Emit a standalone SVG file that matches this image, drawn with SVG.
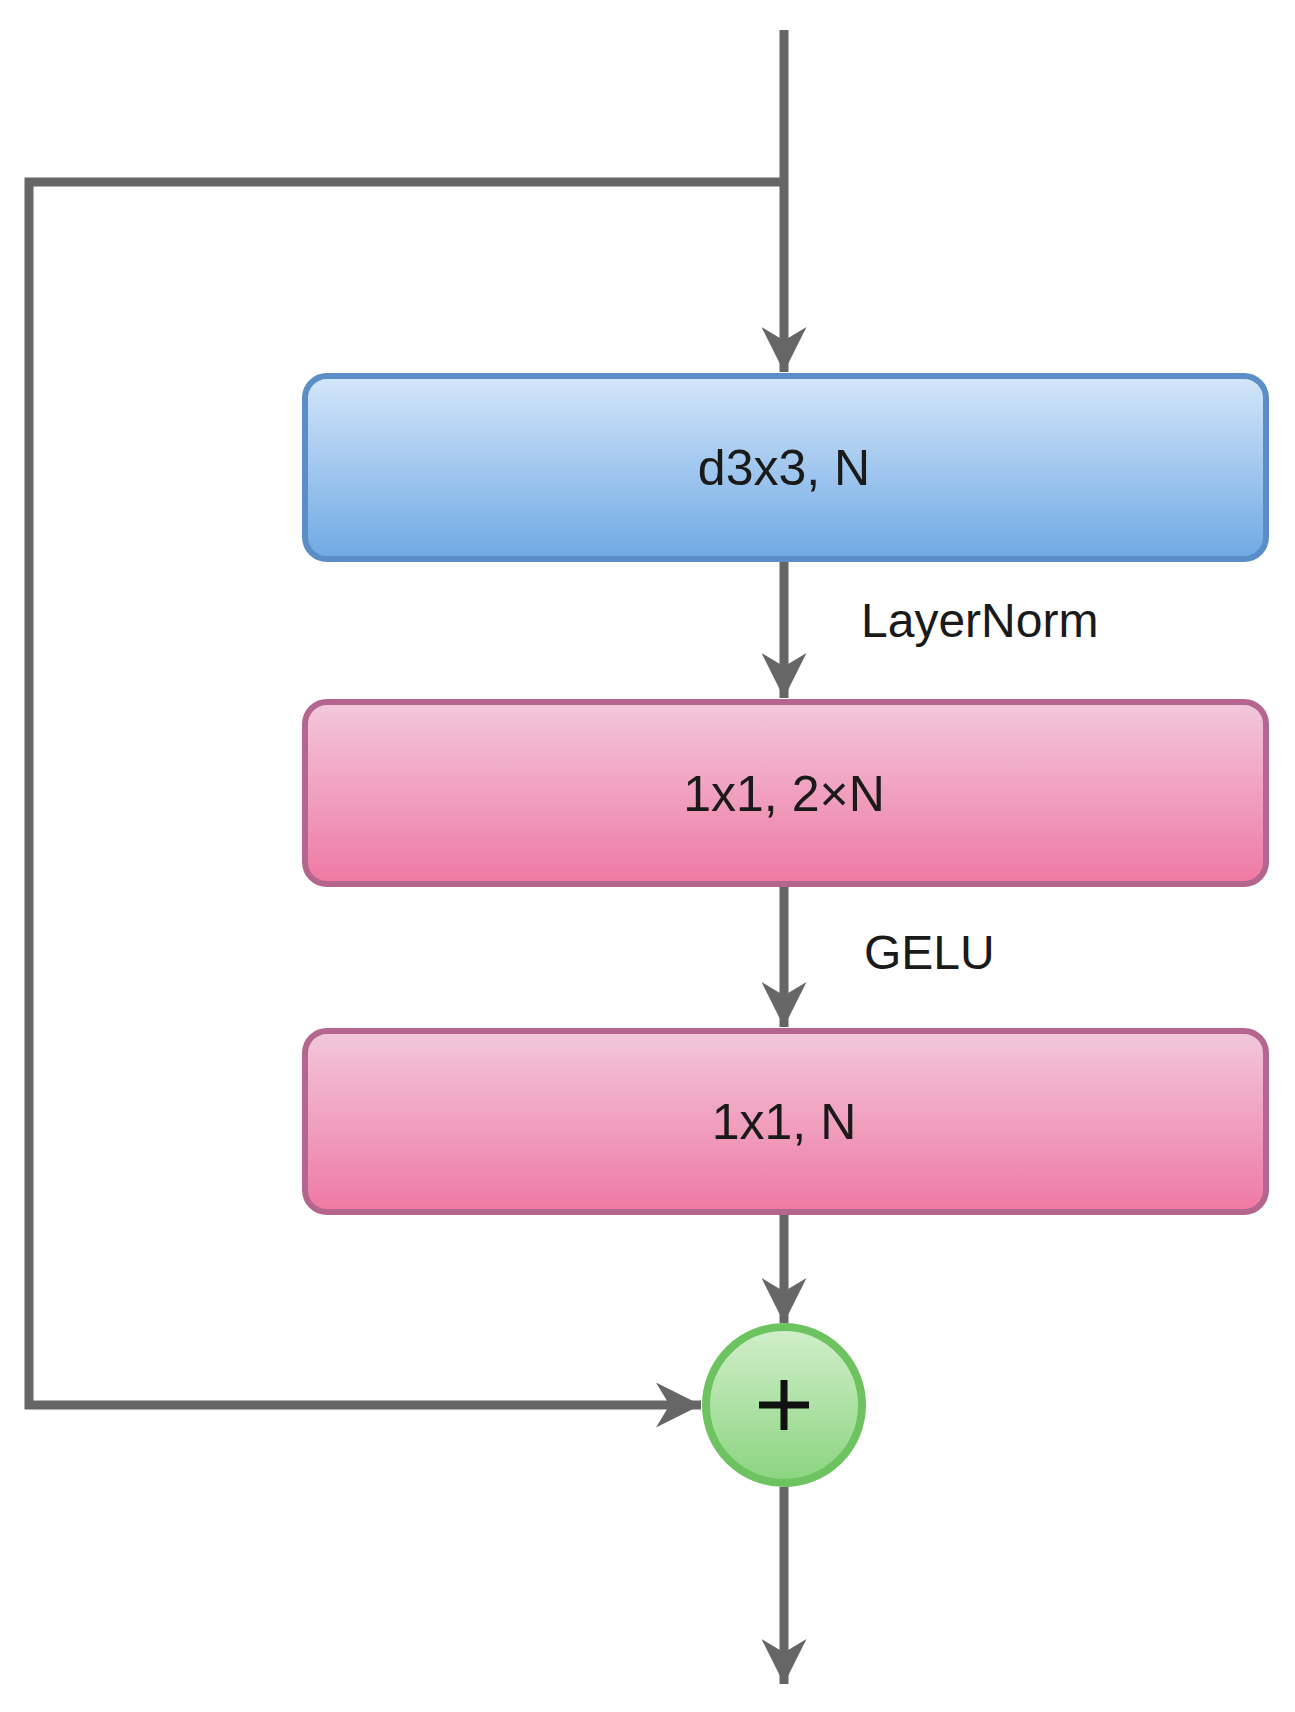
<svg xmlns="http://www.w3.org/2000/svg" width="1295" height="1712" viewBox="0 0 1295 1712">
<style>
.c{stroke:#666;stroke-width:9;fill:none}
.t{font-family:"Liberation Sans",Arial,sans-serif;font-size:50px;fill:#1a1a1a;text-anchor:middle}
.l{font-family:"Liberation Sans",Arial,sans-serif;font-size:48px;fill:#1a1a1a}
</style>
<defs>
<linearGradient id="gb" x1="0" y1="0" x2="0" y2="1"><stop offset="0" stop-color="#d4e6fa"/><stop offset="1" stop-color="#6fa9e4"/></linearGradient>
<linearGradient id="gp" x1="0" y1="0" x2="0" y2="1"><stop offset="0" stop-color="#f2c8da"/><stop offset="1" stop-color="#ef79a2"/></linearGradient>
<linearGradient id="gg" x1="0" y1="0" x2="0" y2="1"><stop offset="0" stop-color="#d2efcb"/><stop offset="1" stop-color="#8ad47f"/></linearGradient>
<marker id="a" viewBox="0 0 10 10" refX="10" refY="5" markerWidth="5" markerHeight="5" markerUnits="strokeWidth" orient="auto"><path d="M0,0 L10,5 L0,10 L3,5 Z" fill="#666"/></marker>
</defs>
<g id="connectors">
<path class="c" d="M784,30 V372" marker-end="url(#a)"/>
<path class="c" d="M784,182 H29 V1405 H701" marker-end="url(#a)"/>
<path class="c" d="M784,559 V698" marker-end="url(#a)"/>
<path class="c" d="M784,884 V1027" marker-end="url(#a)"/>
<path class="c" d="M784,1212 V1323" marker-end="url(#a)"/>
<path class="c" d="M784,1487 V1684" marker-end="url(#a)"/>
<text class="l" x="861" y="637">LayerNorm</text>
<text class="l" x="864" y="969">GELU</text>
</g>
<g id="n1"><rect x="305" y="376" width="961" height="183" rx="22" fill="url(#gb)" stroke="#5b8ec6" stroke-width="6"/><text class="t" x="784" y="485">d3x3, N</text></g>
<g id="n2"><rect x="305" y="702" width="961" height="182" rx="22" fill="url(#gp)" stroke="#b5668f" stroke-width="6"/><text class="t" x="784" y="811">1x1, 2×N</text></g>
<g id="n3"><rect x="305" y="1031" width="961" height="181" rx="22" fill="url(#gp)" stroke="#b5668f" stroke-width="6"/><text class="t" x="784" y="1139">1x1, N</text></g>
<g id="sum"><circle cx="784" cy="1405" r="78" fill="url(#gg)" stroke="#6cc35f" stroke-width="8"/><path d="M784,1380 V1430 M759,1405 H809" stroke="#111" stroke-width="7"/></g>
</svg>
